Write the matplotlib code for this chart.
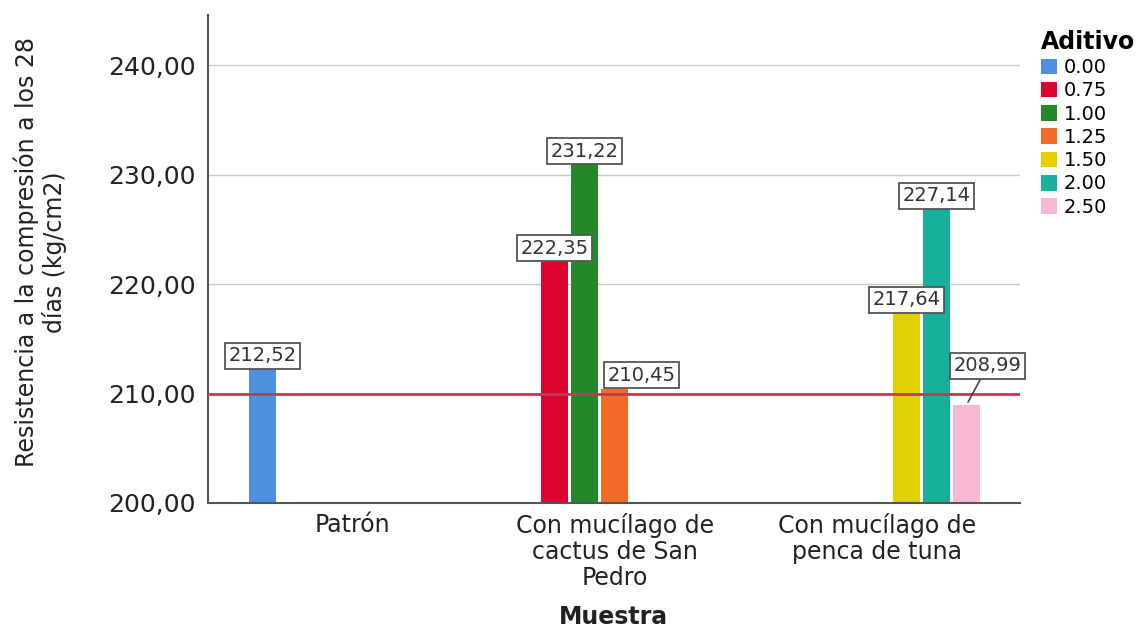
import matplotlib
matplotlib.use("Agg")
import matplotlib.pyplot as plt
import numpy as np
from matplotlib.patches import Patch

plt.rcParams["font.family"] = ["DejaVu Sans"]

categories = ["Patrón", "Con mucílago de\ncactus de San\nPedro", "Con mucílago de\npenca de tuna"]
aditivos = ["0.00", "0.75", "1.00", "1.25", "1.50", "2.00", "2.50"]
colors = ["#4f8fdf", "#dc0530", "#23892a", "#f06a28", "#e2d000", "#17b09a", "#f8b8d4"]

# (categoria, indice de aditivo, valor)
bar_cat = [0, 1, 1, 1, 2, 2, 2]
bar_add = [0, 1, 2, 3, 4, 5, 6]
bar_val = [212.52, 222.35, 231.22, 210.45, 217.64, 227.14, 208.99]
value_labels = ["212,52", "222,35", "231,22", "210,45", "217,64", "227,14", "208,99"]

ref_line = 210.0
yticks = [200, 210, 220, 230, 240]

slot = 0.1145
width = 0.103

fig = plt.figure(figsize=(11.4, 6.3), dpi=100)
ax = fig.add_axes([0.1825, 0.2016, 0.712, 0.7744])

for y in yticks[1:]:
    ax.axhline(y, color="#c9c9c9", lw=1.0, zorder=0)
ax.axhline(ref_line, color="#c23a52", lw=2.0, zorder=3)

# label offsets in points (dx, dy)
offsets = {3: (19, 3), 6: (15, 21)}

for c, a, v, lab in zip(bar_cat, bar_add, bar_val, value_labels):
    x = c + (a - 3) * slot
    ax.bar(x, v - 200, bottom=200, width=width, color=colors[a], zorder=2)
    dx, dy = offsets.get(a, (0, 0.5))
    arrow = None
    if a == 6:
        arrow = dict(arrowstyle="-", color="#444444", lw=1.2, shrinkA=0, shrinkB=2)
    ax.annotate(lab, xy=(x, v), xytext=(dx, dy), textcoords="offset points",
                ha="center", va="bottom", fontsize=14, color="#333333",
                bbox=dict(boxstyle="square,pad=0.18", fc="white", ec="#555555", lw=1.3),
                arrowprops=arrow, zorder=5, annotation_clip=False)

ax.set_xlim(-0.553, 2.546)
ax.set_ylim(200, 244.6)
ax.set_yticks(yticks)
ax.set_yticklabels([f"{t:.2f}".replace(".", ",") for t in yticks], fontsize=18, color="#222222")
ax.set_xticks([0, 1, 2])
ax.set_xticklabels(categories, fontsize=17, color="#222222", linespacing=1.1)
ax.tick_params(axis="both", length=0)
ax.tick_params(axis="y", pad=9)
ax.tick_params(axis="x", pad=7)

for s in ["top", "right"]:
    ax.spines[s].set_visible(False)
for s in ["left", "bottom"]:
    ax.spines[s].set_color("#555555")
    ax.spines[s].set_linewidth(1.5)

ax.set_ylabel("Resistencia a la compresión a los 28\ndías (kg/cm2)", fontsize=17,
              color="#222222", linespacing=1.15)
ax.yaxis.label.set_va("center")
ax.yaxis.set_label_coords(-0.207, 0.514)
ax.set_xlabel("Muestra", fontsize=17, fontweight="bold", color="#222222", labelpad=11)

handles = [Patch(facecolor=c, edgecolor="none", label=l) for c, l in zip(colors, aditivos)]
leg = fig.legend(handles=handles, title="Aditivo", loc="upper left",
                 bbox_to_anchor=(0.906, 0.965), frameon=False, fontsize=14,
                 title_fontproperties={"weight": "bold", "size": 17},
                 handlelength=0.85, handleheight=0.85, handletextpad=0.35,
                 labelspacing=0.22, borderaxespad=0)
leg._legend_box.align = "left"

fig.savefig("out.png", dpi=100)
